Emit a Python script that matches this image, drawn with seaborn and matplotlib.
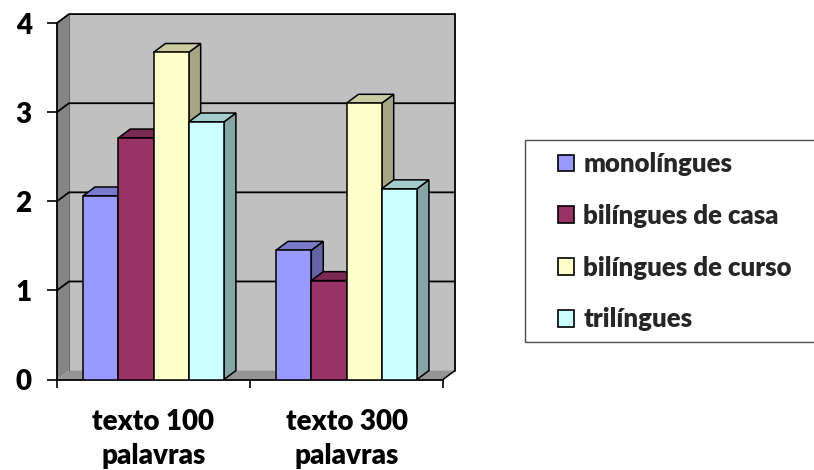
import numpy as np
import pandas as pd
import matplotlib
matplotlib.use("Agg")
import matplotlib.pyplot as plt
import matplotlib.colors as mcolors
from matplotlib.patches import Polygon, Rectangle
from matplotlib.lines import Line2D
import seaborn as sns

# ---- data ----
categories = ["texto 100\npalavras", "texto 300\npalavras"]
groups = ["monolíngues", "bilíngues de casa", "bilíngues de curso", "trilíngues"]
monolingues = [2.06, 1.45]
bilingues_casa = [2.71, 1.11]
bilingues_curso = [3.67, 3.10]
trilingues = [2.89, 2.14]
y_ticks = [0, 1, 2, 3, 4]

colors = ["#9999FF", "#993366", "#FFFFCC", "#CCFFFF"]

df = pd.DataFrame({
    "texto": categories * 4,
    "grupo": np.repeat(groups, len(categories)),
    "valor": monolingues + bilingues_casa + bilingues_curso + trilingues,
})

sns.set_theme(style="white")
plt.rcParams["font.family"] = ["Lato", "DejaVu Sans"]
WEIGHT = "heavy"

fig = plt.figure(figsize=(8.14, 4.70), dpi=100)
ax = fig.add_axes([57 / 814, 90.5 / 470, 386 / 814, 356.5 / 470])
ax.set_facecolor("none")

sns.barplot(data=df, x="texto", y="valor", hue="grupo", order=categories,
            hue_order=groups, palette=colors, width=0.73, saturation=1,
            edgecolor="black", linewidth=1.1, legend=False, ax=ax)

ax.set_xlim(-0.5, 1.5)
ax.set_ylim(0, 4)

# depth of the pseudo-3D box, in data units
DX, DY = 0.062, 0.10
x0, x1, ytop = -0.5, 1.5, 4

def shade(c, f):
    r, g, b = mcolors.to_rgb(c)
    return (r * f, g * f, b * f)

# walls and floor
ax.add_patch(Polygon([(x0, 0), (x0 + DX, DY), (x0 + DX, ytop + DY), (x0, ytop)],
                     closed=True, fc="#858585", ec="none", zorder=0.5, clip_on=False))
ax.add_patch(Rectangle((x0 + DX, DY), x1 - x0, ytop, fc="#c0c0c0", ec="none",
                       zorder=0.5, clip_on=False))
ax.add_patch(Polygon([(x0, 0), (x1, 0), (x1 + DX, DY), (x0 + DX, DY)],
                     closed=True, fc="#959595", ec="none", zorder=0.6, clip_on=False))

# gridlines on side and back walls
for v in y_ticks[1:]:
    ax.add_line(Line2D([x0, x0 + DX, x1 + DX], [v, v + DY, v + DY], color="black",
                       lw=1.3, zorder=0.8, clip_on=False))
ax.add_line(Line2D([x1 + DX, x1 + DX], [DY, ytop + DY], color="black", lw=1.3,
                   zorder=0.8, clip_on=False))
ax.add_line(Line2D([x1, x1 + DX], [0, DY], color="black", lw=1.1,
                   zorder=0.8, clip_on=False))
ax.add_line(Line2D([x0 + DX, x0 + DX], [DY, ytop + DY], color="#6a6a6a", lw=0.8,
                   zorder=0.7, clip_on=False))

# 3D side and top faces for each bar, drawn left to right
bars = sorted([p for p in ax.patches if isinstance(p, Rectangle)
               and p.get_height() > 0 and p.get_width() < 0.5],
              key=lambda p: p.get_x())
for k, p in enumerate(bars):
    x, w, h = p.get_x(), p.get_width(), p.get_height()
    fc = p.get_facecolor()
    z = 2 + k * 0.1
    p.set_zorder(z)
    ax.add_patch(Polygon([(x + w, 0), (x + w + DX, DY), (x + w + DX, h + DY), (x + w, h)],
                         closed=True, fc=shade(fc, 0.65), ec="black", lw=1.1,
                         zorder=z - 0.05, clip_on=False))
    ax.add_patch(Polygon([(x, h), (x + w, h), (x + w + DX, h + DY), (x + DX, h + DY)],
                         closed=True, fc=shade(fc, 0.8), ec="black", lw=1.1,
                         zorder=z - 0.04, clip_on=False))

# axes
for s in ["top", "right"]:
    ax.spines[s].set_visible(False)
for s in ["left", "bottom"]:
    ax.spines[s].set_color("black")
    ax.spines[s].set_linewidth(1.3)
    ax.spines[s].set_zorder(1)

ax.set_xlabel("")
ax.set_ylabel("")
ax.set_yticks(y_ticks)
ax.set_yticklabels([str(v) for v in y_ticks], fontsize=20, fontweight=WEIGHT)
ax.tick_params(axis="y", left=True, length=7.2, width=1.2, pad=11, colors="black")

ax.set_xticks([0, 1])
ax.set_xticklabels(categories, fontsize=20, fontweight=WEIGHT, linespacing=1.42)
ax.set_xticks([-0.5, 0.5, 1.5], minor=True)
ax.tick_params(axis="x", which="major", bottom=True, length=0, pad=21, colors="black")
ax.tick_params(axis="x", which="minor", bottom=True, length=6, width=1.2, color="black")

# legend
handles = [Rectangle((0, 0), 1, 1, fc=c, ec="black", lw=1.2) for c in colors]
fig.legend(handles, groups, loc="upper left", bbox_to_anchor=(558 / 814, 1 - 152 / 470),
           frameon=False, prop=dict(weight=WEIGHT, size=18.5), handlelength=0.62,
           handleheight=0.62, handletextpad=0.36, labelspacing=1.08, borderpad=0,
           borderaxespad=0)
fig.add_artist(Rectangle((525 / 814, 1 - 342 / 470), 300 / 814, 202 / 470,
                         transform=fig.transFigure, fill=False, ec="#505050", lw=1))

fig.savefig("out.png", dpi=100)
